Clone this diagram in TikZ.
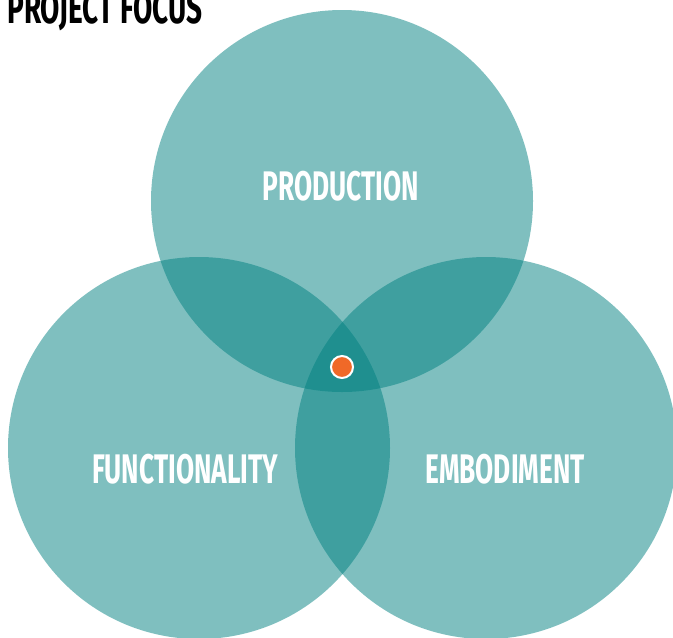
\documentclass[tikz,border=0pt]{standalone}
\usepackage{fontspec}
\usepackage{tikz}
\newfontfamily\condfont[FakeStretch=0.635]{Fira Sans}
\definecolor{focusteal}{RGB}{0,128,128}
\definecolor{focusdot}{RGB}{240,105,40}
\tikzset{
  venn/.style={color=focusteal, fill opacity=0.5},
  label text/.style={anchor=base, inner sep=0, text=white, font=\condfont\bfseries\fontsize{31}{31}\selectfont}
}

\begin{document}
\begin{tikzpicture}[x=0.75pt,y=0.75pt,yscale=-1,xscale=1]
\useasboundingbox (0,0) rectangle (673,637);

%Shape: Circle [id:production]
\fill [venn] (342,201) circle [radius=191];
%Shape: Circle [id:functionality]
\fill [venn] (199,448) circle [radius=191];
%Shape: Circle [id:embodiment]
\fill [venn] (486,448) circle [radius=191];

%Shape: Circle [id:centre dot]
\draw [color=white, line width=1.5, fill=focusdot] (342,367) circle [radius=11];

% Text Node
\node (title) [anchor=base west, inner sep=0, font=\condfont\bfseries\fontsize{33}{33}\selectfont] at (7,23) {PROJECT FOCUS};
% Text Node
\node (production) [label text] at (341,200) {PRODUCTION};
% Text Node
\node (functionality) [label text] at (185,483) {FUNCTIONALITY};
% Text Node
\node (embodiment) [label text] at (505,483) {EMBODIMENT};

\end{tikzpicture}
\end{document}
